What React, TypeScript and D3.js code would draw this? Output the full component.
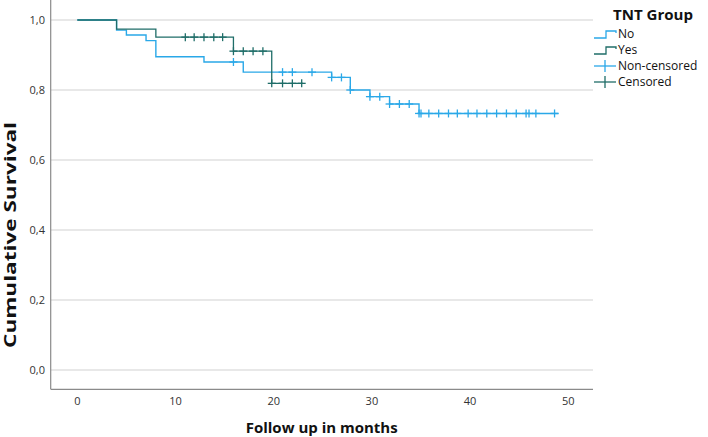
import React from "react";
import * as d3 from "d3";

// Kaplan–Meier steps: [time, survival after event]
const noTimes = [0, 4.0, 5.0, 7.0, 8.0, 12.9, 16.9, 25.9, 27.8, 29.8, 31.8, 34.8];
const noSurv = [1.0, 0.971, 0.957, 0.941, 0.895, 0.88, 0.851, 0.836, 0.8, 0.781, 0.76, 0.733];
const noEnd = 49.0;
const noCensor = [15.9, 20.9, 21.9, 23.9, 25.9, 26.9, 27.8, 29.8, 30.8, 31.8, 32.8, 33.8, 34.8, 35.0, 35.8, 36.8, 37.8, 38.7, 39.8, 40.7, 41.7, 42.7, 43.7, 44.7, 45.7, 46.0, 46.7, 48.6];

const yesTimes = [0, 4.0, 8.0, 15.9, 19.8];
const yesSurv = [1.0, 0.974, 0.951, 0.911, 0.819];
const yesEnd = 23.0;
const yesCensor = [11.0, 11.9, 12.9, 13.9, 14.8, 15.9, 16.9, 17.9, 18.9, 19.8, 20.9, 21.9, 22.85];

const xTicks = [0, 10, 20, 30, 40, 50];
const yTicks = [0, 0.2, 0.4, 0.6, 0.8, 1.0];
const legendTitle = "TNT Group";
const legendLabels = ["No", "Yes", "Non-censored", "Censored"];

const BLUE = "#2aa8e8";
const TEAL = "#1f6d68";

function survAt(times: number[], surv: number[], t: number) {
  let s = surv[0];
  for (let i = 0; i < times.length; i++) if (times[i] <= t) s = surv[i];
  return s;
}

export default function App() {
  const x = d3.scaleLinear().domain([0, 50]).range([77.3, 568.3]);
  const y = d3.scaleLinear().domain([0, 1]).range([370, 20]);
  const axisX0 = 50.7;
  const axisX1 = 593;
  const axisY = 389.3;

  const stepPath = (times: number[], surv: number[], end: number) => {
    const pts: [number, number][] = times.map((t, i) => [t, surv[i]]);
    pts.push([end, surv[surv.length - 1]]);
    return d3.line<[number, number]>().x((d) => x(d[0])).y((d) => y(d[1])).curve(d3.curveStepAfter)(pts) || "";
  };

  const crosses = (times: number[], surv: number[], cs: number[], color: string) =>
    cs.map((t, i) => {
      const cx = x(t);
      const cy = y(survAt(times, surv, t));
      return (
        <g key={i} stroke={color} strokeWidth={1.3}>
          <line x1={cx - 4} x2={cx + 4} y1={cy} y2={cy} />
          <line x1={cx} x2={cx} y1={cy - 4} y2={cy + 4} />
        </g>
      );
    });

  const fontSans = "'Open Sans', 'DejaVu Sans', sans-serif";
  const lx0 = 594;
  const lx1 = 616;
  const ly = [34, 50, 66, 82];

  return (
    <svg width={708} height={437} style={{ position: "absolute", left: 0, top: 0, background: "#fff" }}>
      <rect x={0} y={0} width={708} height={437} fill="#fff" />
      {yTicks.map((v) => (
        <line key={v} x1={axisX0} x2={axisX1} y1={y(v)} y2={y(v)} stroke="#d2d2d2" strokeWidth={1.2} />
      ))}
      <line x1={axisX0} x2={axisX0} y1={0} y2={axisY} stroke="#8a8a8a" strokeWidth={1.2} />
      <line x1={axisX0} x2={axisX1} y1={axisY} y2={axisY} stroke="#8a8a8a" strokeWidth={1.2} />
      {yTicks.map((v) => (
        <text key={v} x={45} y={y(v)} dy="0.35em" textAnchor="end" fontSize={11} fontFamily={fontSans} fill="#333">
          {d3.format(".1f")(v).replace(".", ",")}
        </text>
      ))}
      {xTicks.map((v) => (
        <text key={v} x={x(v)} y={401} dy="0.35em" textAnchor="middle" fontSize={11} fontFamily={fontSans} fill="#333">
          {v}
        </text>
      ))}
      <text x={321.7} y={428} dy="0.35em" textAnchor="middle" fontSize={15} fontWeight="bold" fontFamily={fontSans} fill="#111" textLength={152} lengthAdjust="spacingAndGlyphs">
        Follow up in months
      </text>
      <text transform="translate(15.5,235) rotate(-90)" textAnchor="middle" fontSize={16} fontWeight="bold" fontFamily={fontSans} fill="#111" textLength={226} lengthAdjust="spacingAndGlyphs">
        Cumulative Survival
      </text>

      <path d={stepPath(noTimes, noSurv, noEnd)} fill="none" stroke={BLUE} strokeWidth={1.4} />
      <path d={stepPath(yesTimes, yesSurv, yesEnd)} fill="none" stroke={TEAL} strokeWidth={1.3} />
      {crosses(noTimes, noSurv, noCensor, BLUE)}
      {crosses(yesTimes, yesSurv, yesCensor, TEAL)}

      <text x={613} y={15} dy="0.35em" fontSize={15} fontWeight="bold" fontFamily={fontSans} fill="#111" textLength={80} lengthAdjust="spacingAndGlyphs">
        {legendTitle}
      </text>
      {[BLUE, TEAL].map((c, i) => (
        <path key={i} d={`M${lx0},${ly[i] + 4} H${lx0 + 12} V${ly[i] - 3} H${lx1} V${ly[i] - 1}`} fill="none" stroke={c} strokeWidth={1.3} />
      ))}
      {[BLUE, TEAL].map((c, i) => (
        <g key={i} stroke={c} strokeWidth={1.3}>
          <line x1={lx0} x2={lx1} y1={ly[i + 2]} y2={ly[i + 2]} />
          <line x1={(lx0 + lx1) / 2} x2={(lx0 + lx1) / 2} y1={ly[i + 2] - 6} y2={ly[i + 2] + 6} />
        </g>
      ))}
      {legendLabels.map((l, i) => (
        <text key={l} x={618} y={ly[i]} dy="0.35em" fontSize={12} fontFamily={fontSans} fill="#111">
          {l}
        </text>
      ))}
    </svg>
  );
}
